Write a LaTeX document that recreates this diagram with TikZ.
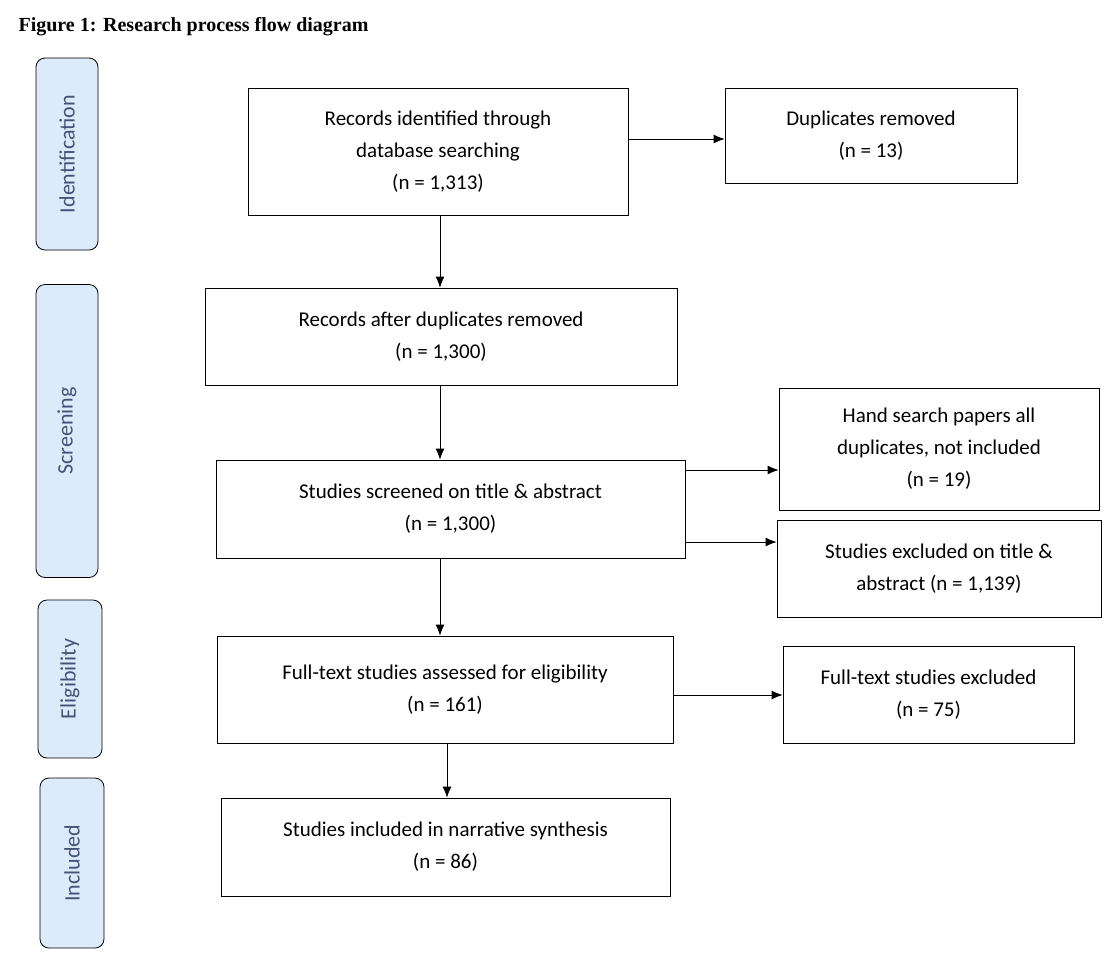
\documentclass[tikz,border=0pt]{standalone}
\usepackage{fontspec}
\setmainfont{Liberation Serif}
\newfontfamily\boxfont{Carlito}
\usetikzlibrary{arrows.meta}
\definecolor{stagefill}{RGB}{220,234,250}
\definecolor{stagetext}{RGB}{68,84,120}
\begin{document}
\begin{tikzpicture}[x=1pt,y=1pt]

      \tikzset{box/.style={draw, thick, align=center, font=\boxfont\fontsize{21}{32}\selectfont, inner sep=0pt},
               stage/.style={draw, thick, rounded corners=9pt, fill=stagefill, text=stagetext, font=\boxfont\fontsize{22}{26}\selectfont, inner sep=0pt},
               arr/.style={thick, -{Latex[length=11pt,width=9pt]}}}
      \useasboundingbox (0,0) rectangle (1120,-978);
      \node[anchor=west, font=\bfseries\fontsize{20}{24}\selectfont] (title) at (15,-27) {Figure 1: Research process flow diagram};
%% Stages
      	\node[stage, minimum width=62, minimum height=192] (s1) at (67,-154) {};
      	\node[rotate=90, text=stagetext, font=\boxfont\fontsize{22}{26}\selectfont] at (s1) {Identification};
      	\node[stage, minimum width=62, minimum height=293] (s2) at (67,-431) {};
      	\node[rotate=90, text=stagetext, font=\boxfont\fontsize{22}{26}\selectfont] at (s2) {Screening};
      	\node[stage, minimum width=64, minimum height=158] (s3) at (70,-679) {};
      	\node[rotate=90, text=stagetext, font=\boxfont\fontsize{22}{26}\selectfont] at (s3) {Eligibility};
      	\node[stage, minimum width=64, minimum height=170] (s4) at (72,-863) {};
      	\node[rotate=90, text=stagetext, font=\boxfont\fontsize{22}{26}\selectfont] at (s4) {Included};
%% Boxes
      	\node[box, minimum width=380, minimum height=127] (ident) at (438,-151.5) {Records identified through\\database searching\\(n = 1,313)};
      	\node[box, minimum width=292, minimum height=95] (dup) at (871,-135.5) {Duplicates removed\\(n = 13)};
      	\node[box, minimum width=472, minimum height=97] (after) at (441,-336.5) {Records after duplicates removed\\(n = 1,300)};
      	\node[box, minimum width=469, minimum height=98] (screen) at (450.5,-509) {Studies screened on title \& abstract\\(n = 1,300)};
      	\node[box, minimum width=320, minimum height=122] (hand) at (939,-449) {Hand search papers all\\duplicates, not included\\(n = 19)};
      	\node[box, minimum width=324, minimum height=97] (excl) at (939,-568.5) {Studies excluded on title \&\\abstract (n = 1,139)};
      	\node[box, minimum width=456, minimum height=107] (full) at (445,-689.5) {Full-text studies assessed for eligibility\\(n = 161)};
      	\node[box, minimum width=291, minimum height=97] (ftex) at (928.5,-694.5) {Full-text studies excluded\\(n = 75)};
      	\node[box, minimum width=449, minimum height=98] (incl) at (445.5,-847) {Studies included in narrative synthesis\\(n = 86)};
%Edges
		\draw[arr] (ident.east |- 0,-139) -- (dup.west |- 0,-139);
		\draw[arr] (ident.south -| 440,0) -- (after.north -| 440,0);
		\draw[arr] (after.south -| 440,0) -- (screen.north -| 440,0);
		\draw[arr] (screen.east |- 0,-470) -- (hand.west |- 0,-470);
		\draw[arr] (screen.east |- 0,-542) -- (excl.west |- 0,-542);
		\draw[arr] (screen.south -| 440,0) -- (full.north -| 440,0);
		\draw[arr] (full.east |- 0,-695) -- (ftex.west |- 0,-695);
		\draw[arr] (full.south -| 447,0) -- (incl.north -| 447,0);

	\end{tikzpicture}
\end{document}
